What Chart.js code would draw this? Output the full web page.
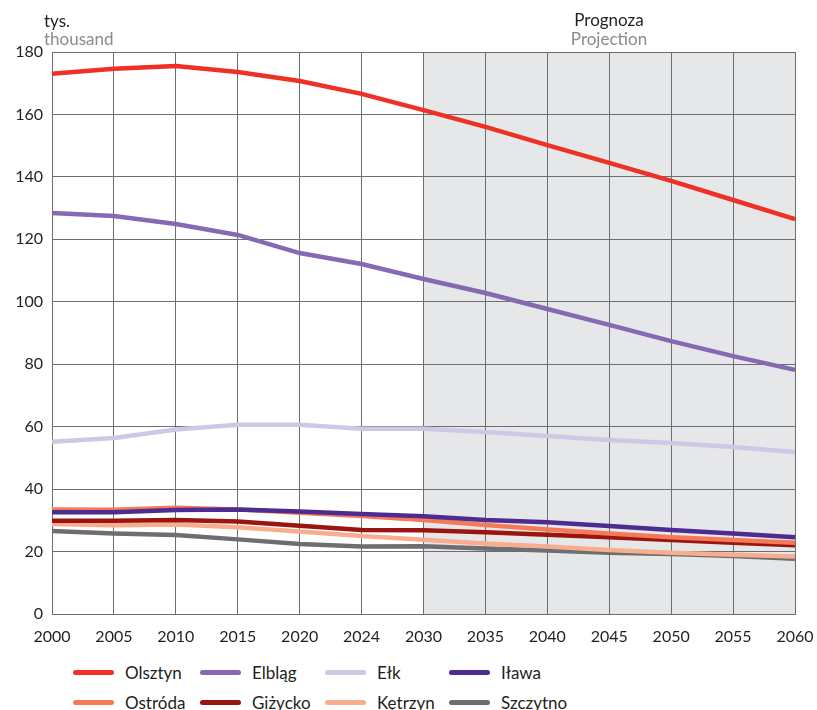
<!DOCTYPE html>
<html>
<head>
<meta charset="utf-8">
<script src="https://cdn.jsdelivr.net/npm/chart.js@4"></script>
<style>
  html, body { margin:0; padding:0; background:#fff; }
  #wrap { position:relative; width:817px; height:710px; }
  #chartBox { position:absolute; left:0; top:0; width:817px; height:650px; }
  .lbl { position:absolute; font-family:'Lato','Open Sans',sans-serif; font-size:17px; line-height:18px; }
  .legend { position:absolute; left:73px; top:661px; display:grid; grid-template-columns:127px 125px 124px 125px; row-gap:8px; }
  .item { display:flex; align-items:center; height:22px; font-family:'Lato',sans-serif; font-size:17px; color:#231f20; }
  .item span.sw { display:inline-block; width:41px; height:5px; border-radius:3px; margin-right:11px; }
</style>
</head>
<body>
<div id="wrap">
  <div id="chartBox"><canvas id="c"></canvas></div>
  <div class="lbl" style="left:44px;top:12px;color:#231f20;">tys.</div>
  <div class="lbl" style="left:44px;top:30px;color:#8a8b8e;">thousand</div>
  <div class="lbl" style="left:549px;top:11px;width:120px;text-align:center;color:#231f20;">Prognoza</div>
  <div class="lbl" style="left:549px;top:30px;width:120px;text-align:center;color:#8a8b8e;">Projection</div>
  <div class="legend" id="legend"></div>
</div>
<script>
const years = ['2000','2005','2010','2015','2020','2024','2030','2035','2040','2045','2050','2055','2060'];
const olsztyn  = [173.0,174.6,175.5,173.6,170.7,166.6,161.4,156.0,150.2,144.5,138.7,132.6,126.5];
const elblag   = [128.4,127.5,124.9,121.4,115.6,112.1,107.3,102.8,97.7,92.6,87.4,82.6,78.2];
const elk      = [55.2,56.4,59.1,60.6,60.6,59.3,59.3,58.3,57.0,55.7,54.8,53.5,51.9];
const ilawa    = [32.6,32.6,33.3,33.5,32.8,32.0,31.3,30.1,29.4,28.2,26.9,25.8,24.6];
const ostroda  = [33.5,33.4,34.0,33.5,32.4,31.4,30.1,28.5,27.1,25.8,24.6,23.7,22.8];
const gizycko  = [29.9,29.9,30.1,29.6,28.3,26.9,26.8,26.2,25.4,24.6,23.7,22.8,22.0];
const ketrzyn  = [28.8,28.4,28.7,27.8,26.4,25.0,23.8,22.6,21.6,20.5,19.6,19.0,18.4];
const szczytno = [26.6,25.8,25.3,23.9,22.4,21.6,21.7,21.0,20.3,19.6,19.2,18.6,17.7];
const projStart = 6; // index of 2030

const names  = ['Olsztyn','Elbląg','Ełk','Iława','Ostróda','Giżycko','Kętrzyn','Szczytno'];
const values = [olsztyn, elblag, elk, ilawa, ostroda, gizycko, ketrzyn, szczytno];
const colors = ['#ee3124','#8768b3','#d0c7e4','#4d2c92','#f47a57','#9a1510','#f9ad8f','#6d6e71'];

// legend in legend order (rows of 4)
const leg = document.getElementById('legend');
names.forEach((n,i)=>{
  const d = document.createElement('div');
  d.className = 'item';
  d.innerHTML = `<span class="sw" style="background:${colors[i]}"></span>${n}`;
  leg.appendChild(d);
});

// shaded projection band behind the grid
const shade = {
  id:'shade',
  beforeDraw(chart){
    const {ctx, chartArea:a, scales:{x}} = chart;
    const x0 = x.getPixelForValue(projStart);
    const x1 = x.getPixelForValue(years.length-1);
    ctx.save();
    ctx.fillStyle = '#e6e7e9';
    ctx.fillRect(x0, a.top, x1-x0, a.bottom-a.top);
    ctx.restore();
  }
};

new Chart(document.getElementById('c'), {
  type:'line',
  data:{
    labels: years,
    datasets: names.map((n,i)=>({
      label:n,
      data:values[i],
      borderColor:colors[i],
      backgroundColor:colors[i],
      borderWidth:4.5,
      pointRadius:0,
      tension:0,
      order:i+1
    }))
  },
  options:{
    responsive:true,
    maintainAspectRatio:false,
    animation:false,
    layout:{ padding:{ top:52, right:0, left:0, bottom:0 } },
    plugins:{ legend:{display:false}, tooltip:{enabled:false} },
    scales:{
      x:{
        offset:false,
        grid:{ color:'#6d6e71', lineWidth:1, drawTicks:false },
        border:{ color:'#6d6e71', width:1 },
        ticks:{ color:'#231f20', font:{family:'Lato', size:16}, padding:13, maxRotation:0, autoSkip:false },
        afterFit(s){ s.height = 36; s.paddingRight = 22; s.paddingLeft = 0; }
      },
      y:{
        min:0, max:180,
        grid:{ color:'#6d6e71', lineWidth:1, drawTicks:false },
        border:{ color:'#6d6e71', width:1 },
        ticks:{ stepSize:20, color:'#231f20', font:{family:'Lato', size:16}, padding:9 },
        afterFit(s){ s.width = 52; }
      }
    }
  },
  plugins:[shade]
});
</script>
</body>
</html>
